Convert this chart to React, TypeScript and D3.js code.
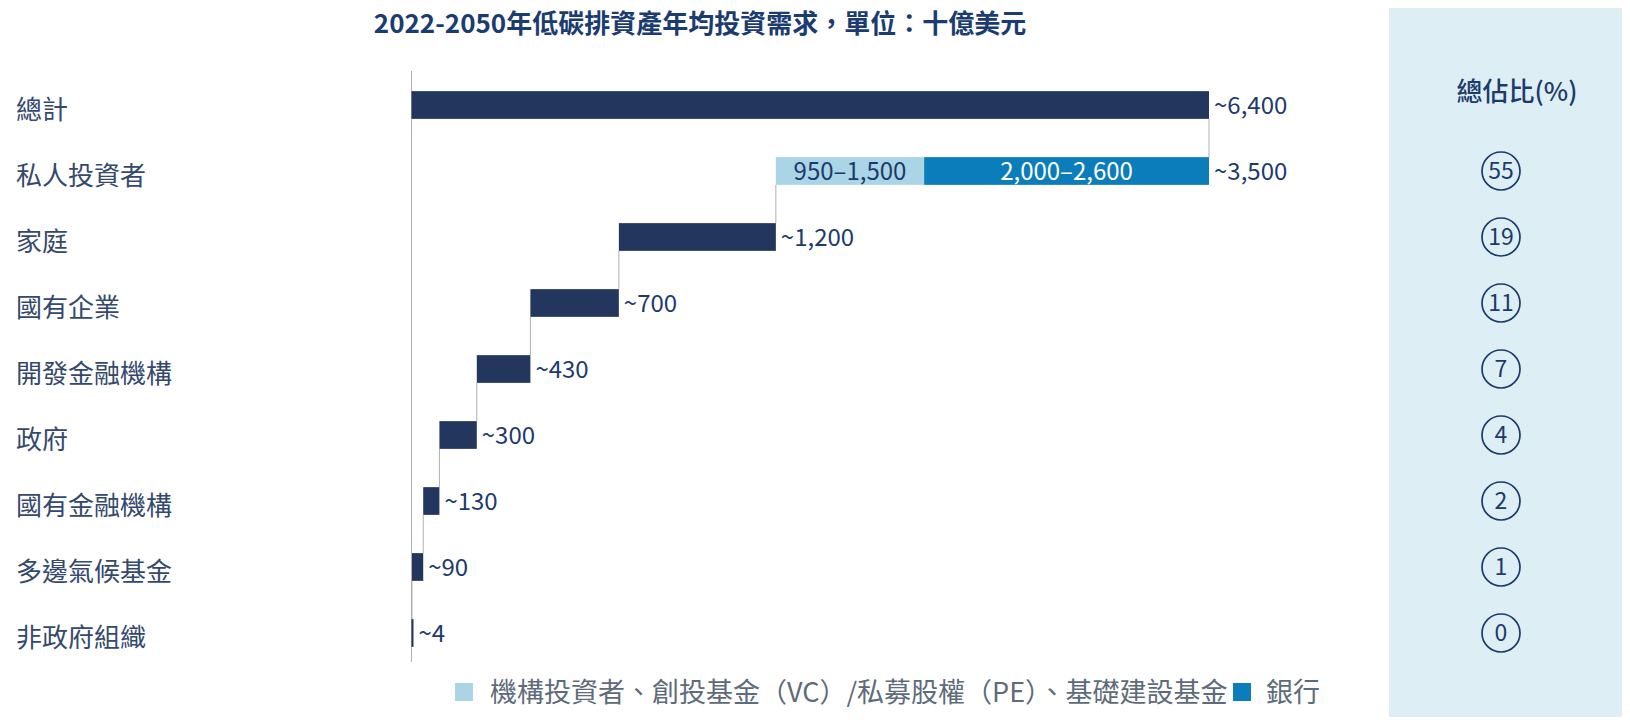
import React from 'react';
import * as d3 from 'd3';

// categories, top to bottom
const categories = ['總計', '私人投資者', '家庭', '國有企業', '開發金融機構', '政府', '國有金融機構', '多邊氣候基金', '非政府組織'];
// bar sizes (billion USD)
const barValues = [6400, 3476, 1260, 710, 430, 300, 130, 90, 4];
const valueLabels = ['~6,400', '~3,500', '~1,200', '~700', '~430', '~300', '~130', '~90', '~4'];
// private investors split: institutional / banks
const privateSplit = [1190, 2286];
const privateSplitLabels = ['950–1,500', '2,000–2,600'];
const shares = [null, 55, 19, 11, 7, 4, 2, 1, 0];
const legendItems = ['機構投資者、創投基金（VC）/私募股權（PE）、基礎建設基金', '銀行'];

const W = 1630;
const H = 725;
const FONT = '"Noto Sans CJK TC", "Noto Sans", sans-serif';
const NAVY = '#22365e';
const LIGHT = '#aad5e6';
const BLUE = '#0b7dba';
const TEXT = '#1c3a6b';

export default function App() {
  const x = d3.scaleLinear().domain([0, 6400]).range([411.5, 1209]);
  const y = d3.scaleBand().domain(categories).range([72, 666]).paddingInner(0.58).paddingOuter(0.29);
  const bh = y.bandwidth();

  // waterfall: each row starts where the rows below it end
  const starts: number[] = barValues.map((_, i) => {
    if (i === 0) return 0;
    return d3.sum(barValues.slice(i + 1));
  });

  return (
    <svg width={W} height={H} style={{ display: 'block', margin: '-8px', fontFamily: FONT }}>
      <rect x={1389} y={0} width={236} height={717} fill="#deeef5" />

      <text x={700} y={33} textAnchor="middle" fontSize={26} fontWeight="bold" fill="#1b3c70">
        2022-2050年低碳排資產年均投資需求，單位：十億美元
      </text>

      {/* baseline */}
      <line x1={x(0)} x2={x(0)} y1={71} y2={662} stroke="#b0b0b0" strokeWidth={1} />

      {/* connectors */}
      {categories.map((c, i) => {
        if (i === categories.length - 1) return null;
        const xe = i === 0 ? x(barValues[0]) : x(starts[i]);
        return (
          <line key={'c' + c} x1={xe} x2={xe} y1={(y(c) || 0) + bh} y2={y(categories[i + 1]) || 0} stroke="#b0b0b0" strokeWidth={1} />
        );
      })}

      {categories.map((c, i) => {
        const yy = y(c) || 0;
        const cy = yy + bh / 2;
        const s = starts[i];
        const e = s + barValues[i];
        return (
          <g key={c}>
            <text x={16} y={cy + 14} fontSize={26} fill="#34496c">{c}</text>
            {i === 1 ? (
              <g>
                <rect x={x(s)} y={yy} width={x(s + privateSplit[0]) - x(s)} height={bh} fill={LIGHT} />
                <rect x={x(s + privateSplit[0])} y={yy} width={x(e) - x(s + privateSplit[0])} height={bh} fill={BLUE} />
                <text x={(x(s) + x(s + privateSplit[0])) / 2} y={cy + 8.5} textAnchor="middle" fontSize={24} fill={TEXT}>{privateSplitLabels[0]}</text>
                <text x={(x(s + privateSplit[0]) + x(e)) / 2} y={cy + 8.5} textAnchor="middle" fontSize={24} fill="#ffffff">{privateSplitLabels[1]}</text>
              </g>
            ) : (
              <rect x={x(s)} y={yy} width={Math.max(2, x(e) - x(s))} height={bh} fill={NAVY} />
            )}
            <text x={Math.max(x(e), x(s) + 2) + 5} y={cy + 8.5} fontSize={24} fill={TEXT}>{valueLabels[i]}</text>
            {shares[i] !== null && (
              <g>
                <circle cx={1501} cy={cy} r={19} fill="none" stroke={TEXT} strokeWidth={1.7} />
                <text x={1501} y={cy + 8} textAnchor="middle" fontSize={23} fill={TEXT}>{shares[i]}</text>
              </g>
            )}
          </g>
        );
      })}

      <text x={1517} y={101} textAnchor="middle" fontSize={26} fontWeight={500} fill={TEXT}>總佔比(%)</text>

      {/* legend */}
      <rect x={455} y={683} width={18} height={18} fill={LIGHT} />
      <text x={490} y={702} fontSize={27} fill="#5e6b7a">{legendItems[0]}</text>
      <rect x={1233} y={683} width={18} height={18} fill={BLUE} />
      <text x={1266} y={702} fontSize={27} fill="#5e6b7a">{legendItems[1]}</text>
    </svg>
  );
}
